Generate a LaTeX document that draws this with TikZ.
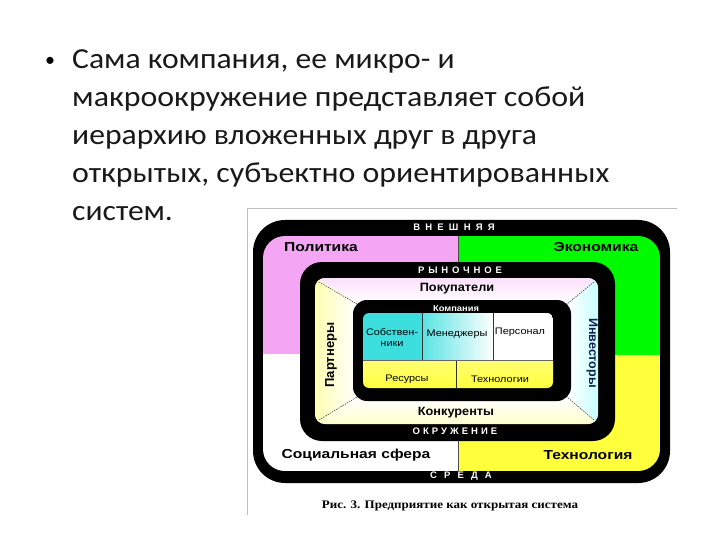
\documentclass[tikz,border=0pt]{standalone}
\usepackage{graphicx}
\usepackage{fontspec}
\setmainfont{Carlito}
\newfontfamily\arial{Liberation Sans}
\newfontfamily\timesf{Liberation Serif}
\newcommand{\hsx}[2]{\scalebox{#1}[1]{#2}}
\usetikzlibrary{positioning}
\definecolor{pinkc}{RGB}{244,166,244}
\definecolor{greenc}{RGB}{0,250,0}
\definecolor{yellowc}{RGB}{255,255,60}
\definecolor{cellcyan}{RGB}{60,222,222}
\definecolor{navy}{RGB}{20,30,80}
\tikzset{
  bodytext/.style={anchor=base west, inner sep=0pt, font=\fontsize{29}{34}\selectfont, text=black!90},
  biglabel/.style={inner sep=0pt, font=\arial\bfseries\fontsize{13}{15}\selectfont},
  midlabel/.style={inner sep=0pt, font=\arial\bfseries\fontsize{12}{14}\selectfont},
  band/.style={inner sep=0pt, text=white},
  cell/.style={inner sep=0pt, align=center, font=\arial\fontsize{9.5}{12}\selectfont},
  divider/.style={draw=black!80, line width=0.6pt},
  diag/.style={draw=black!80, line width=0.5pt, dash pattern=on 1.5pt off 1pt},
}
\newcommand{\bandfont}[1]{\arial\bfseries\fontsize{9.5}{11}\selectfont\addfontfeature{LetterSpace=#1}}
\begin{document}
\begin{tikzpicture}[x=1pt,y=-1pt]
\useasboundingbox (0,0) rectangle (720,540);
\fill[white] (0,0) rectangle (720,540);
% body text
\node[inner sep=0pt, font=\fontsize{20}{24}\selectfont] (bul) at (50,62) {•};
\node[bodytext] (l1) at (72,69) {\hsx{1.09}{Сама компания, ее микро- и}};
\node[bodytext] (l2) at (72,107) {\hsx{1.1}{макроокружение представляет собой}};
\node[bodytext] (l3) at (72,145) {\hsx{1.09}{иерархию вложенных друг в друга}};
\node[bodytext] (l4) at (72,183) {\hsx{1.1}{открытых, субъектно ориентированных}};
\node[bodytext] (l5) at (72,221) {\hsx{1.09}{систем.}};
% frame
\draw[black!25, line width=0.8pt] (247,515) -- (247,208) -- (677,208);
% outer
\fill[black, rounded corners=32pt] (253,220) rectangle (670,483);
\begin{scope}
  \clip[rounded corners=22pt] (263,236) rectangle (660,471);
  \fill[pinkc] (263,236) rectangle (458,354);
  \fill[greenc] (458,236) rectangle (660,355);
  \fill[white] (263,354) rectangle (458,471);
  \fill[yellowc] (458,355) rectangle (660,471);
  \draw[black!70, line width=0.6pt] (458,236) -- (458,471);
\end{scope}
\node[band, font=\bandfont{55}] (vn) at (454,227) {ВНЕШНЯЯ};
\node[band, font=\bandfont{75}] (sr) at (461,476) {СРЕДА};
\node[biglabel] (pol) at (321,247) {\hsx{1.2}{Политика}};
\node[biglabel] (eco) at (596,247) {\hsx{1.2}{Экономика}};
\node[biglabel] (soc) at (356,455) {\hsx{1.2}{Социальная сфера}};
\node[biglabel] (tech) at (588,455) {\hsx{1.2}{Технология}};
% market
\fill[black, rounded corners=22pt] (300,262) rectangle (615,441);
\begin{scope}
  \clip[rounded corners=10pt] (315,278) rectangle (598,424);
  \fill[white] (315,278) rectangle (598,424);
  \shade[top color=pinkc!35, bottom color=white] (315,278) -- (598,278) -- (568,303) -- (356,303) -- cycle;
  \shade[left color=yellow!30, right color=white] (315,278) -- (356,303) -- (356,398) -- (315,424) -- cycle;
  \shade[left color=white, right color=cyan!22] (598,278) -- (568,303) -- (568,398) -- (598,424) -- cycle;
  \shade[top color=white, bottom color=yellow!20] (315,424) -- (356,398) -- (568,398) -- (598,424) -- cycle;
\end{scope}
\coordinate (a1) at (319,282);
\coordinate (a2) at (594,282);
\coordinate (a3) at (319,420);
\coordinate (a4) at (594,420);
\coordinate (b1) at (357,304);
\coordinate (b2) at (567,304);
\coordinate (b3) at (357,397);
\coordinate (b4) at (567,397);
\draw[diag] (a1) -- (b1);
\draw[diag] (a2) -- (b2);
\draw[diag] (a3) -- (b3);
\draw[diag] (a4) -- (b4);
\node[band, font=\bandfont{40}] (ryn) at (460,270) {РЫНОЧНОЕ};
\node[band, font=\bandfont{32}] (okr) at (455,431) {ОКРУЖЕНИЕ};
\node[midlabel] (pok) at (457,289) {\hsx{1.06}{Покупатели}};
\node[midlabel] (kon) at (456,413) {\hsx{1.06}{Конкуренты}};
\node[midlabel, font=\arial\bfseries\fontsize{13}{15}\selectfont, rotate=90] (par) at (331,355) {Партнеры};
\node[midlabel, font=\arial\bfseries\fontsize{12.5}{15}\selectfont, rotate=-90, text=navy] (inv) at (592,353) {Инвесторы};
% company
\fill[black, rounded corners=14pt] (353,300) rectangle (571,401);
\node[inner sep=0pt, text=white, font=\arial\bfseries\fontsize{8.5}{10}\selectfont] (komp) at (456,309) {\hsx{1.1}{Компания}};
\begin{scope}
  \clip[rounded corners=6pt] (363,313) rectangle (553,388);
  \fill[cellcyan] (363,313) rectangle (422,360);
  \shade[left color=cellcyan!85, right color=white] (422,313) rectangle (493,360);
  \fill[white] (493,313) rectangle (553,360);
  \shade[top color=yellow!55, bottom color=yellowc] (363,360) rectangle (553,388);
\end{scope}
\draw[divider] (422,313) -- (422,360);
\draw[divider] (493,313) -- (493,360);
\draw[divider] (456,360) -- (456,388);
\draw[divider, black!60] (363,360) -- (553,360);
\node[cell] (sob) at (392,339) {\hsx{1.15}{\begin{tabular}{@{}c@{}}Собствен-\\[-1pt]ники\end{tabular}}};
\node[cell] (men) at (457,334) {\hsx{1.15}{Менеджеры}};
\node[cell] (per) at (520,332) {\hsx{1.15}{Персонал}};
\node[cell] (res) at (407,379) {\hsx{1.15}{Ресурсы}};
\node[cell] (teh) at (500,379) {\hsx{1.15}{Технологии}};
% caption
\node[inner sep=0pt, font=\timesf\bfseries\fontsize{11.5}{13}\selectfont] (cap) at (450,506) {\hsx{1.13}{Рис. 3. Предприятие как открытая система}};
\end{tikzpicture}
\end{document}
